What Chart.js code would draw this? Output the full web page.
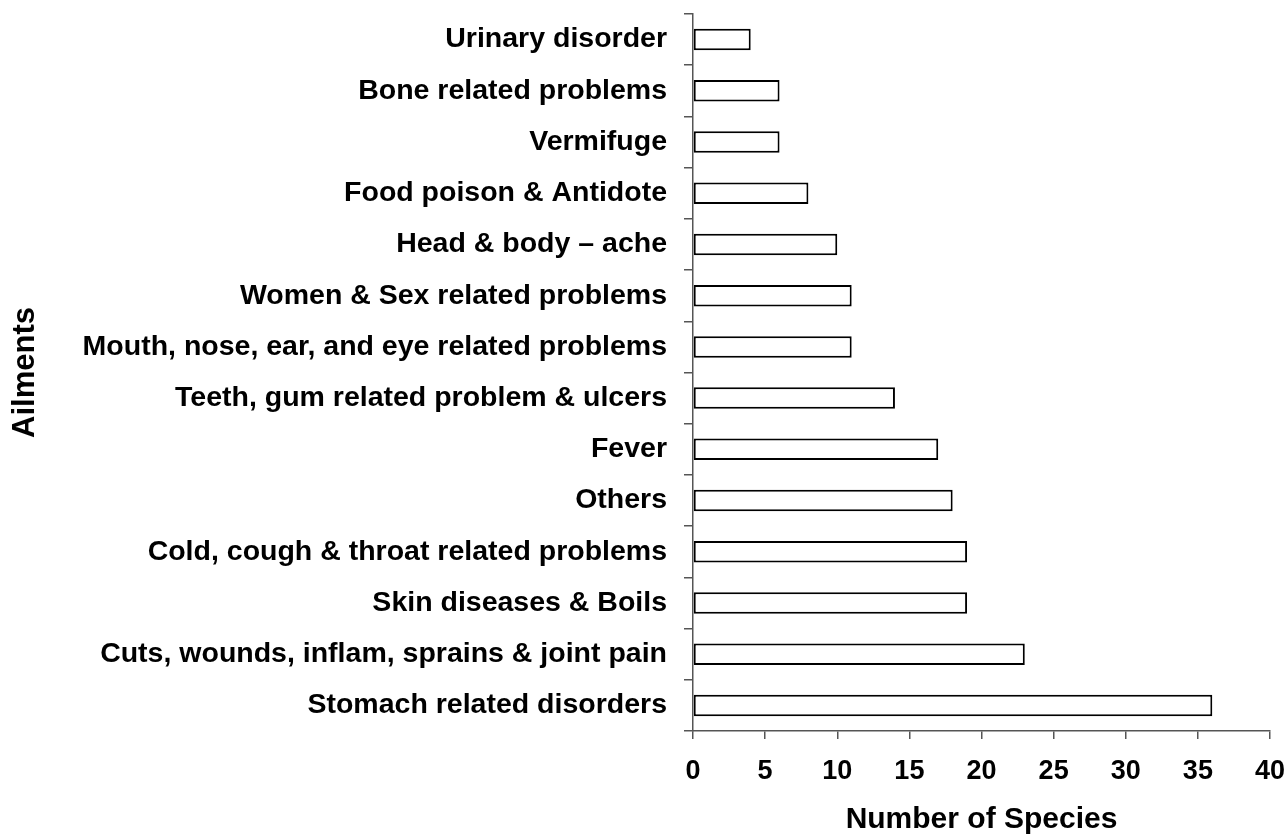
<!DOCTYPE html>
<html>
<head>
<meta charset="utf-8">
<script src="https://cdn.jsdelivr.net/npm/chart.js@4"></script>
<style>
  html, body { margin: 0; padding: 0; background: #fff; }
  #wrap { width: 1287px; height: 838px; }
</style>
</head>
<body>
<div id="wrap"><canvas id="ailmentChart" width="1287" height="838"></canvas></div>
<script>
var ailments = [
    "Urinary disorder",
    "Bone related problems",
    "Vermifuge",
    "Food poison & Antidote",
    "Head & body \u2013 ache",
    "Women & Sex related problems",
    "Mouth, nose, ear, and eye related problems",
    "Teeth, gum related problem & ulcers",
    "Fever",
    "Others",
    "Cold, cough & throat related problems",
    "Skin diseases & Boils",
    "Cuts, wounds, inflam, sprains & joint pain",
    "Stomach related disorders"
];
var speciesCount = [4, 6, 6, 8, 10, 11, 11, 14, 17, 18, 19, 19, 23, 36];
var xTicks = [0, 5, 10, 15, 20, 25, 30, 35, 40];

var font = "'Liberation Sans', Arial, sans-serif";

var ctx = document.getElementById("ailmentChart").getContext("2d");
var ailmentChart = new Chart(ctx, {
    type: "bar",
    data: {
        labels: ailments,
        datasets: [{
            data: speciesCount,
            backgroundColor: "#ffffff",
            borderColor: "#000000",
            borderWidth: 2,
            borderSkipped: false,
            barPercentage: 0.42,
            categoryPercentage: 1
        }]
    },
    options: {
        indexAxis: "y",
        responsive: false,
        animation: false,
        layout: { padding: { top: 14, right: 17, left: 0, bottom: 0 } },
        plugins: {
            legend: { display: false },
            tooltip: { enabled: false }
        },
        scales: {
            x: {
                min: 0,
                max: 40,
                afterBuildTicks: function (axis) {
                    axis.ticks = xTicks.map(function (v) { return { value: v }; });
                },
                afterFit: function (axis) {
                    axis.height = 107;
                    axis.paddingLeft = 0;
                    axis.paddingRight = 0;
                },
                grid: { drawOnChartArea: false, drawTicks: true, tickLength: 8, color: "#555", lineWidth: 1.5 },
                border: { color: "#555", width: 1.5 },
                ticks: { color: "#000", padding: 16, font: { family: font, size: 27, weight: "bold" } },
                title: {
                    display: true,
                    text: "Number of Species",
                    color: "#000",
                    padding: { top: 0, bottom: 0 },
                    font: { family: font, size: 30, weight: "bold" }
                }
            },
            y: {
                afterFit: function (axis) {
                    axis.width = 693;
                    axis.paddingTop = 0;
                    axis.paddingBottom = 0;
                },
                grid: { drawOnChartArea: false, drawTicks: true, tickLength: 9, color: "#555", lineWidth: 1.5, offset: true },
                border: { color: "#555", width: 1.5 },
                ticks: { color: "#000", padding: 17, autoSkip: false, font: { family: font, size: 28.5, weight: "bold" } },
                title: {
                    display: true,
                    text: "Ailments",
                    color: "#000",
                    padding: { top: 7, bottom: 0 },
                    font: { family: font, size: 31, weight: "bold" }
                }
            }
        }
    }
});
</script>
</body>
</html>
